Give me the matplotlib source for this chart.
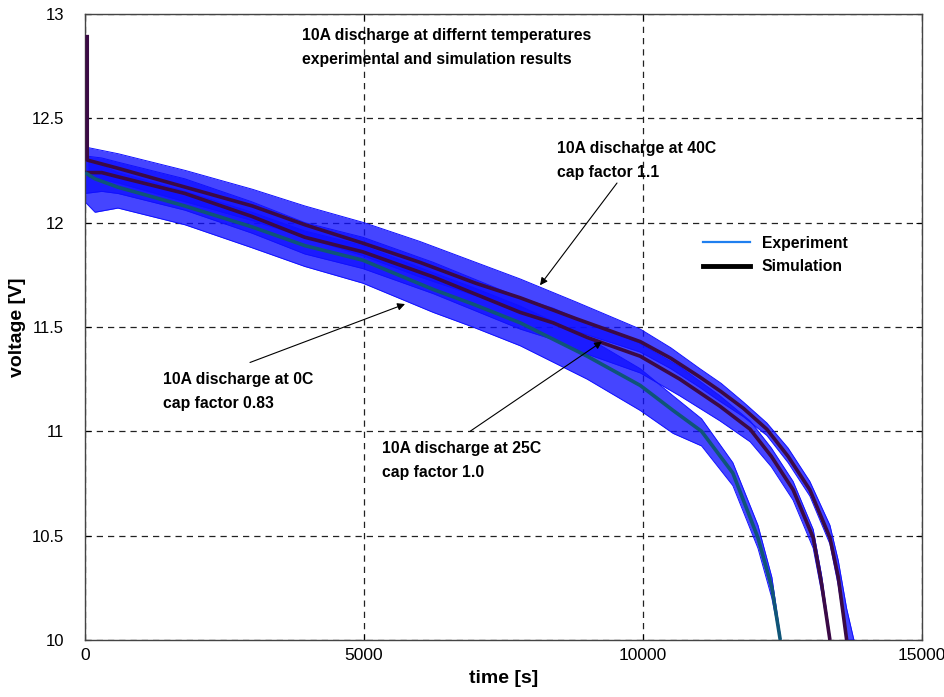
import matplotlib
matplotlib.use('Agg')
import matplotlib.pyplot as plt
from matplotlib.lines import Line2D

plt.rcParams['font.family'] = ['Liberation Sans', 'DejaVu Sans']

# ─────────────────────────────────────────
# DATOS
# ─────────────────────────────────────────
# 40C — simulación (con pico inicial)
t_sim_40 = [40, 40, 600, 1800, 3000, 3940, 5000, 6000, 7000, 7800, 8800, 9950,
            10500, 11020, 11400, 11800, 12220, 12600, 12990, 13350, 13500, 13650]
v_sim_40 = [12.90, 12.30, 12.26, 12.17, 12.08, 11.99, 11.90, 11.81, 11.71, 11.64,
            11.54, 11.43, 11.35, 11.26, 11.19, 11.11, 11.01, 10.88, 10.72, 10.49,
            10.30, 10.00]
# 40C — experimento (envolvente del ruido)
t_exp_40 = [50, 600, 1800, 3000, 3940, 5000, 6000, 7000, 7800, 8800, 9950, 10500,
            11020, 11400, 11800, 12220, 12600, 12990, 13350, 13500, 13650, 13780]
v_exp_40_hi = [12.36, 12.33, 12.25, 12.16, 12.08, 12.00, 11.91, 11.81, 11.73, 11.62,
               11.49, 11.40, 11.30, 11.23, 11.14, 11.04, 10.92, 10.76, 10.55, 10.38,
               10.15, 10.00]
v_exp_40_lo = [12.22, 12.19, 12.10, 12.01, 11.93, 11.84, 11.74, 11.65, 11.58, 11.48,
               11.38, 11.30, 11.21, 11.14, 11.07, 10.98, 10.85, 10.69, 10.46, 10.26,
               10.00, 10.00]

# 25C
t_25 = [0, 300, 590, 1790, 2990, 3940, 4980, 6240, 7800, 8390, 9000, 9950, 10660,
        11380, 11920, 12300, 12690, 13050, 13200, 13350]
v_sim_25 = [12.24, 12.24, 12.22, 12.14, 12.03, 11.93, 11.86, 11.74, 11.57, 11.52,
            11.45, 11.36, 11.25, 11.12, 11.01, 10.88, 10.72, 10.49, 10.27, 10.00]
v_exp_25_hi = [12.32, 12.31, 12.29, 12.21, 12.10, 12.00, 11.93, 11.81, 11.64, 11.59,
               11.52, 11.42, 11.31, 11.17, 11.05, 10.92, 10.76, 10.53, 10.31, 10.02]
v_exp_25_lo = [12.14, 12.15, 12.14, 12.06, 11.95, 11.85, 11.78, 11.66, 11.49, 11.44,
               11.37, 11.28, 11.17, 11.05, 10.95, 10.83, 10.67, 10.44, 10.23, 10.00]

# 0C
t_0 = [0, 180, 590, 1790, 2990, 3940, 4980, 6240, 6950, 7800, 9000, 9950, 10540,
       11050, 11610, 12060, 12310, 12460]
v_sim_0 = [12.24, 12.21, 12.17, 12.08, 11.98, 11.89, 11.82, 11.68, 11.61, 11.52,
           11.36, 11.22, 11.10, 11.00, 10.80, 10.49, 10.25, 10.00]
v_exp_0_hi = [12.30, 12.29, 12.24, 12.15, 12.05, 11.96, 11.89, 11.76, 11.69, 11.60,
              11.45, 11.30, 11.17, 11.06, 10.85, 10.55, 10.30, 10.02]
v_exp_0_lo = [12.10, 12.05, 12.07, 11.99, 11.88, 11.79, 11.71, 11.57, 11.50, 11.41,
              11.25, 11.10, 10.99, 10.93, 10.74, 10.44, 10.20, 10.00]

x_ticks = [0, 5000, 10000, 15000]
y_ticks = [10, 10.5, 11, 11.5, 12, 12.5, 13]
y_ticklabels = ['10', '10.5', '11', '11.5', '12', '12.5', '13']

# ─────────────────────────────────────────
# GRÁFICO
# ─────────────────────────────────────────
EXP = '#1010ff'
SIM = '#3b0a45'
SIM0 = '#0f5577'

fig = plt.figure(figsize=(9.45, 6.97), dpi=100)
ax = fig.add_axes([85 / 945, 1 - 640 / 697, 837 / 945, 626 / 697])

for t, lo, hi in [(t_exp_40, v_exp_40_lo, v_exp_40_hi),
                  (t_25, v_exp_25_lo, v_exp_25_hi),
                  (t_0, v_exp_0_lo, v_exp_0_hi)]:
    ax.fill_between(t, lo, hi, color=EXP, alpha=0.78, linewidth=0, zorder=2)
    ax.plot(t, hi, color=EXP, lw=0.7, zorder=2)
    ax.plot(t, lo, color=EXP, lw=0.7, zorder=2)

ax.plot(t_sim_40, v_sim_40, color=SIM, lw=2.6, zorder=3, solid_capstyle='butt')
ax.plot(t_25, v_sim_25, color=SIM, lw=2.6, zorder=3, solid_capstyle='butt')
ax.plot(t_0, v_sim_0, color=SIM0, lw=2.6, zorder=4, solid_capstyle='butt')

ax.set_xlim(0, 15000)
ax.set_ylim(10, 13)
ax.set_xticks(x_ticks)
ax.set_xticklabels([str(x) for x in x_ticks], fontsize=12.5)
ax.set_yticks(y_ticks)
ax.set_yticklabels(y_ticklabels, fontsize=12)
ax.tick_params(axis='x', direction='in', length=4, pad=6, top=True)
ax.tick_params(axis='y', direction='in', length=4, pad=15, right=True)
ax.grid(True, color='#222222', linestyle=(0, (5, 4)), linewidth=0.9)
for s in ax.spines.values():
    s.set_color('#444444')
    s.set_linewidth(1.0)

ax.set_xlabel('time [s]', fontsize=14, fontweight='bold', labelpad=5)
ax.set_ylabel('voltage [V]', fontsize=14, fontweight='bold', labelpad=4)

txt = dict(fontsize=11.3, fontweight='bold', ha='left', va='center',
           linespacing=1.75, zorder=6)
ax.text(3889, 12.84, '10A discharge at differnt temperatures\n'
        'experimental and simulation results', **txt)
ax.text(8459, 12.30, '10A discharge at 40C\ncap factor 1.1', **txt)
ax.text(1398, 11.19, '10A discharge at 0C\ncap factor 0.83', **txt)
ax.text(5323, 10.86, '10A discharge at 25C\ncap factor 1.0', **txt)

flecha = dict(arrowstyle='-|>', color='black', lw=0.8, mutation_scale=11,
              shrinkA=0, shrinkB=0)
ax.annotate('', xy=(8154, 11.70), xytext=(9534, 12.19), arrowprops=flecha, zorder=6)
ax.annotate('', xy=(5735, 11.61), xytext=(2957, 11.33), arrowprops=flecha, zorder=6)
ax.annotate('', xy=(9265, 11.43), xytext=(6900, 11.00), arrowprops=flecha, zorder=6)

handles = [Line2D([], [], color='#1f7fef', lw=1.6),
           Line2D([], [], color='black', lw=3.5)]
leg = ax.legend(handles, ['Experiment', 'Simulation'], loc='upper left',
                bbox_to_anchor=(0.738, 0.646), frameon=False, borderpad=0,
                borderaxespad=0, handlelength=3.0, handletextpad=0.75,
                labelspacing=0.55, prop={'weight': 'bold', 'size': 11.3})

plt.savefig('out.png', dpi=100, facecolor='white')
plt.close()
